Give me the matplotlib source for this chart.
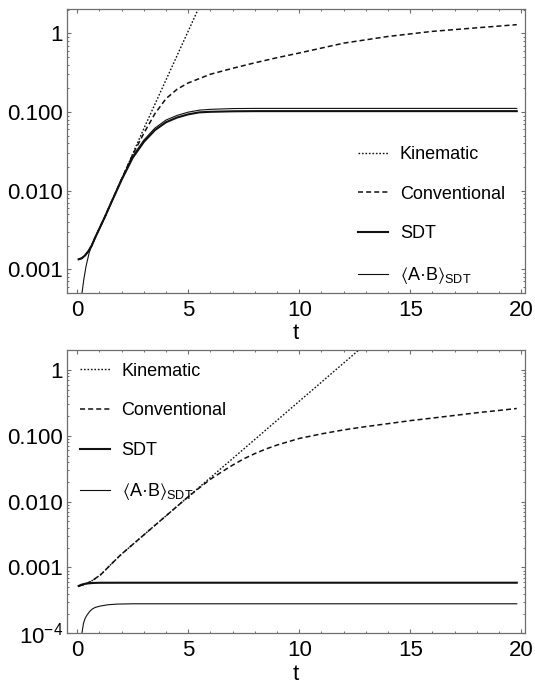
import numpy as np
import matplotlib
matplotlib.use("Agg")
import matplotlib.pyplot as plt
from matplotlib.ticker import FixedLocator, FixedFormatter, MultipleLocator, LogLocator, NullFormatter

plt.rcParams['font.family'] = ['Liberation Sans', 'DejaVu Sans']
plt.rcParams['mathtext.fontset'] = 'custom'
plt.rcParams['mathtext.rm'] = 'Liberation Sans'
plt.rcParams['mathtext.it'] = 'Liberation Sans:italic'
plt.rcParams['mathtext.fallback'] = 'stixsans'

# ---- top panel data ----
t_kin_top = [0.06, 0.2, 0.35, 0.5, 0.65, 0.8, 1.0, 1.25, 1.5, 2.0, 2.5, 3.0, 3.5,
             4.0, 4.5, 5.0, 5.5]
kin_top = [0.00134, 0.00138, 0.0015, 0.0017, 0.0020, 0.00251, 0.00331, 0.00468,
           0.00676, 0.0141, 0.0295, 0.0617, 0.126, 0.257, 0.525, 1.07, 2.19]

t_conv_top = [0.06, 0.2, 0.35, 0.5, 0.65, 0.8, 1.0, 1.25, 1.5, 2.0, 2.5, 3.0, 3.5,
              4.0, 4.5, 5.0, 6.0, 7.0, 8.0, 9.0, 10.0, 12.0, 14.0, 16.0, 18.0, 19.8]
conv_top = [0.00134, 0.00138, 0.0015, 0.0017, 0.0020, 0.00251, 0.00331, 0.00468,
            0.00676, 0.0141, 0.0288, 0.0537, 0.0955, 0.148, 0.195, 0.234, 0.302,
            0.359, 0.422, 0.490, 0.562, 0.750, 0.912, 1.059, 1.175, 1.288]

t_sdt_top = [0.06, 0.2, 0.35, 0.5, 0.65, 0.8, 1.0, 1.25, 1.5, 2.0, 2.5, 3.0, 3.5,
             4.0, 4.5, 5.0, 5.5, 6.0, 7.0, 8.0, 19.8]
sdt_top = [0.00134, 0.00138, 0.0015, 0.0017, 0.0020, 0.00251, 0.00331, 0.00468,
           0.00676, 0.0138, 0.0263, 0.0417, 0.0589, 0.0741, 0.0851, 0.0933, 0.0989,
           0.1005, 0.102, 0.1025, 0.1025]

t_ab_top = [0.2, 0.29, 0.39, 0.53, 0.68, 0.85, 1.0, 1.25, 1.5, 2.0, 2.5, 3.0, 3.5,
            4.0, 4.5, 5.0, 5.5, 6.0, 7.0, 8.0, 19.8]
ab_top = [4.7e-4, 7.3e-4, 1.08e-3, 1.6e-3, 2.14e-3, 2.69e-3, 3.31e-3, 4.68e-3,
          6.76e-3, 0.0141, 0.0275, 0.0440, 0.0625, 0.0790, 0.0905, 0.0995, 0.1055,
          0.108, 0.1105, 0.111, 0.111]

# ---- bottom panel data ----
t_kin_bot = [0.06, 0.3, 0.6, 0.8, 1.05, 1.25, 1.5, 1.95, 2.5, 3.0, 4.0, 5.0, 6.0,
             7.0, 8.0, 9.0, 10.0, 11.0, 12.0, 13.0]
kin_bot = [5.24e-4, 5.47e-4, 6.10e-4, 6.76e-4, 7.76e-4, 9.02e-4, 1.10e-3, 1.55e-3,
           2.24e-3, 3.13e-3, 6.10e-3, 0.0119, 0.0232, 0.0452, 0.0881, 0.172, 0.335,
           0.653, 1.274, 2.48]

t_conv_bot = [0.06, 0.3, 0.6, 0.8, 1.05, 1.25, 1.5, 1.95, 2.5, 3.0, 4.0, 5.0, 5.5,
              6.0, 6.5, 7.0, 7.5, 8.0, 8.5, 9.0, 10.0, 11.0, 12.0, 13.0, 14.0, 15.0,
              16.0, 17.0, 18.0, 19.0, 19.8]
conv_bot = [5.24e-4, 5.47e-4, 6.10e-4, 6.76e-4, 7.76e-4, 9.02e-4, 1.10e-3, 1.55e-3,
            2.24e-3, 3.13e-3, 6.10e-3, 0.0119, 0.0162, 0.0219, 0.0282, 0.0359,
            0.0447, 0.0537, 0.0631, 0.0724, 0.0912, 0.107, 0.123, 0.138, 0.153,
            0.170, 0.186, 0.204, 0.224, 0.243, 0.260]

t_sdt_bot = [0.06, 0.2, 0.4, 0.7, 1.0, 2.0, 19.8]
sdt_bot = [5.24e-4, 5.5e-4, 5.7e-4, 5.82e-4, 5.86e-4, 5.87e-4, 5.87e-4]

t_ab_bot = [0.2, 0.24, 0.28, 0.35, 0.44, 0.55, 0.66, 0.8, 1.04, 1.4, 1.8, 2.5, 19.8]
ab_bot = [0.95e-4, 1.18e-4, 1.42e-4, 1.68e-4, 1.9e-4, 2.13e-4, 2.32e-4, 2.47e-4,
          2.6e-4, 2.72e-4, 2.78e-4, 2.81e-4, 2.81e-4]

labels = ['Kinematic', 'Conventional', 'SDT',
          '$⟨\\mathregular{A·B}⟩_{\\mathregular{SDT}}$']

top_yticks = [0.001, 0.01, 0.1, 1]
top_ylabels = ['0.001', '0.010', '0.100', '1']
bot_yticks = [1e-4, 0.001, 0.01, 0.1, 1]
bot_ylabels = ['$10^{-4}$', '0.001', '0.010', '0.100', '1']

frame_col = '#6e6e6e'
line_col = '#111111'

fig = plt.figure(figsize=(5.35, 6.89), dpi=100)
ax1 = fig.add_axes([0.1258, 0.5752, 0.8555, 0.4113])
ax2 = fig.add_axes([0.1258, 0.0808, 0.8555, 0.4112])


def draw(ax, tk, yk, tc, yc, ts, ys, ta, ya):
    ax.plot(tk, yk, color=line_col, lw=1.0, ls=(0, (1.2, 1.3)), label=labels[0])
    ax.plot(tc, yc, color=line_col, lw=1.1, ls=(0, (3.3, 2.0)), label=labels[1])
    ax.plot(ts, ys, color=line_col, lw=1.5, label=labels[2])
    ax.plot(ta, ya, color=line_col, lw=0.8, label=labels[3])


def style(ax, ylim, yticks, ylabels):
    ax.set_yscale('log')
    ax.set_xlim(-0.45, 20.17)
    ax.set_ylim(*ylim)
    ax.xaxis.set_major_locator(MultipleLocator(5))
    ax.xaxis.set_minor_locator(MultipleLocator(1))
    ax.yaxis.set_major_locator(FixedLocator(yticks))
    ax.yaxis.set_major_formatter(FixedFormatter(ylabels))
    ax.yaxis.set_minor_locator(LogLocator(base=10, subs=np.arange(2, 10)))
    ax.yaxis.set_minor_formatter(NullFormatter())
    ax.tick_params(which='both', direction='in', top=True, right=True,
                   color=frame_col, labelsize=16, labelcolor='black')
    ax.tick_params(which='major', length=3.2, width=0.8)
    ax.tick_params(which='minor', length=1.7, width=0.7)
    ax.tick_params(axis='y', pad=3)
    ax.tick_params(axis='x', pad=5)
    for s in ax.spines.values():
        s.set_color(frame_col)
        s.set_linewidth(0.9)
    ax.set_xlabel('t', fontsize=16, labelpad=2)


leg_kw = dict(loc='upper left', frameon=False, fontsize=13, handlelength=1.67,
              handletextpad=0.65, labelspacing=1.25, borderpad=0, borderaxespad=0)

draw(ax1, t_kin_top, kin_top, t_conv_top, conv_top, t_sdt_top, sdt_top, t_ab_top, ab_top)
style(ax1, (5.04e-4, 2.02), top_yticks, top_ylabels)
ax1.legend(bbox_to_anchor=(0.635, 0.517), **leg_kw)

draw(ax2, t_kin_bot, kin_bot, t_conv_bot, conv_bot, t_sdt_bot, sdt_bot, t_ab_bot, ab_bot)
style(ax2, (1e-4, 2.01), bot_yticks, bot_ylabels)
ax2.legend(bbox_to_anchor=(0.027, 0.955), **leg_kw)

fig.savefig('out.png', dpi=100)
